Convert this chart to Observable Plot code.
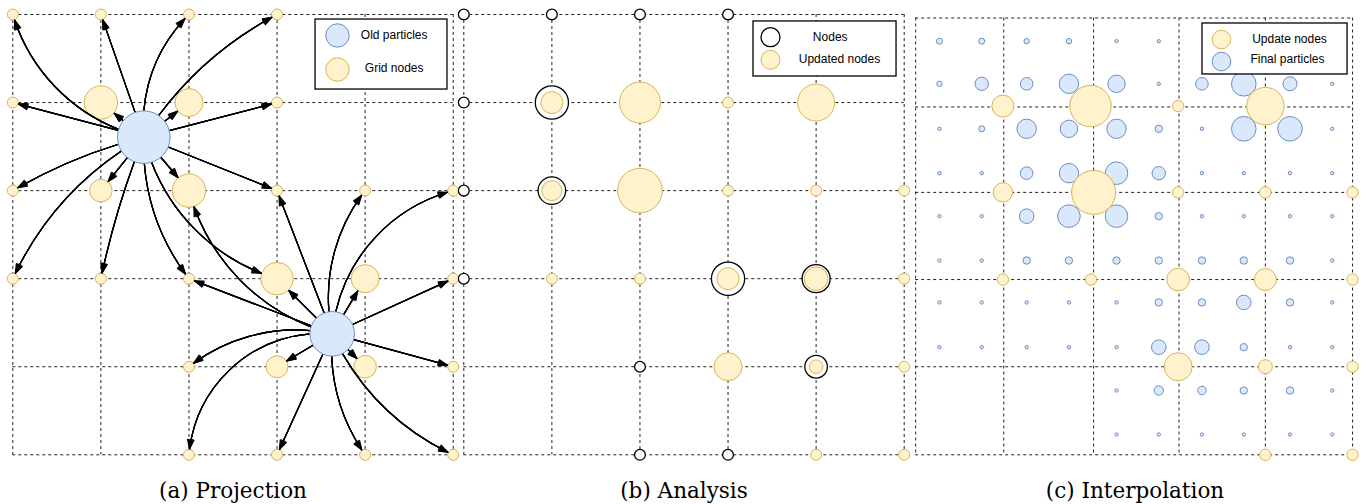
<!DOCTYPE html>
<html>
<head>
<meta charset="utf-8">
<script src="https://cdn.jsdelivr.net/npm/d3@7"></script>
<script src="https://cdn.jsdelivr.net/npm/@observablehq/plot@0.6"></script>
<style>
  html, body { margin: 0; padding: 0; background: #fff; }
</style>
</head>
<body>
<div id="chart"></div>
<script>
// ---------------- DATA ----------------
const panels = ["a", "b", "c"];
const captions = ["(a) Projection", "(b) Analysis", "(c) Interpolation"];

// grid line positions (grid units) for each panel
const gridA = [0, 1, 2, 3, 4, 5];
const gridB = [0, 1, 2, 3, 4, 5];
const gridCx = [0.01, 1.01, 2.03, 3.0, 3.98, 4.97];
const gridCy = [0.04, 1.05, 2.02, 3.01, 4.0, 5.0];

// (a) Projection: grid nodes [gx, gy, size]
const projNodes = [
  [0,0,5.5],[1,0,5.5],[2,0,5.5],[3,0,5.5],
  [0,1,5.5],[1,1,16.7],[2,1,14],[3,1,5.5],
  [0,2,5.5],[1,2,11.3],[2,2,16.7],[3,2,5.5],[4,2,5.5],[5,2,5.5],
  [0,3,5.5],[1,3,5.5],[2,3,5.5],[3,3,16.3],[4,3,14],[5,3,5.5],
  [2,4,5.5],[3,4,11],[4,4,11.3],[5,4,5.5],
  [2,5,5.5],[3,5,5.5],[4,5,5.5],[5,5,5.5]
];
// old particles [gx, gy, size]
const oldParticles = [[1.487, 1.393, 26.3], [3.626, 3.626, 22.3]];
// transfer arrows [particle index, target gx, target gy, bend (deg)]
const projArrows = [
  [0,0,0,30],[0,1,0,0],[0,2,0,25],[0,3,0,15],
  [0,0,1,0],[0,1,1,0],[0,2,1,0],[0,3,1,0],
  [0,0,2,-8],[0,1,2,0],[0,2,2,0],[0,3,2,0],
  [0,0,3,-18],[0,1,3,-5],[0,2,3,-20],[0,3,3,-30],
  [1,2,2,30],[1,3,2,0],[1,4,2,25],[1,5,2,35],
  [1,2,3,0],[1,3,3,0],[1,4,3,0],[1,5,3,0],
  [1,2,4,-25],[1,3,4,0],[1,4,4,0],[1,5,4,0],
  [1,2,5,-45],[1,3,5,0],[1,4,5,-20],[1,5,5,-20]
];

// (b) Analysis: nodes (hollow) and updated nodes (yellow) [gx, gy, size]
const analysisNodes = [
  [0,0,5.4],[1,0,5.4],[2,0,5.4],[3,0,5.4],[0,1,5.4],[0,2,5.4],[0,3,5.4],
  [2,4,5.4],[2,5,5.4],[3,5,5.4],
  [1,1,16.6],[1,2,13.8],[3,3,16.6],[4,3,14],[4,4,11.3]
];
const analysisUpdated = [
  [1,1,11],[1,2,10],[3,3,11],[4,3,11.8],[4,4,6.8],
  [2,1,20.5],[3,1,5.5],[4,1,18.5],
  [2,2,22.3],[3,2,5.5],[4,2,5.5],[5,2,5.5],
  [1,3,5.5],[2,3,5.5],[5,3,5.5],
  [3,4,14],[5,4,5.5],
  [4,5,5.5],[5,5,5.5]
];

// (c) Interpolation: update nodes [gx, gy, size]
const interpNodes = [
  [1.0,1.04,11],[1.995,1.04,20.7],[2.99,1.04,5.7],[3.98,1.04,18.7],
  [1.0,2.02,9.7],[2.03,2.02,22],[2.99,2.02,5.7],[3.98,2.02,5.7],[4.97,2.02,5.7],
  [1.0,3.01,5.7],[2.0,3.01,5.7],[2.99,3.01,11.3],[3.98,3.01,11],[4.97,3.01,5.7],
  [2.99,4.0,14],[3.98,4.0,7],[4.97,4.0,5.7],
  [3.98,5.0,5.7],[4.97,5.0,5.7]
];
// final particles: column / row positions (grid units) and sizes per row
const particleCols = [0.28, 0.76, 1.27, 1.75, 2.29, 2.77, 3.26, 3.735, 4.26, 4.74];
const particleRows = [0.303, 0.787, 1.298, 1.802, 2.29, 2.794, 3.27, 3.778, 4.27, 4.77];
const particleSizes = [
  [3, 3, 2.7, 2.7, 1.7, 1.7, null, null, null, null],
  [2.7, 6.7, 6.3, 9.7, 8.7, 1.7, 6.3, 12.3, 7, 1.7],
  [1.7, 3, 9.7, 8.7, 9.7, 3.7, 1.7, 12.3, 12.3, 1.7],
  [1.7, 1.7, 6.3, 9.7, 11.3, 6.7, 1.7, 1.7, 1.7, 1.7],
  [1.7, 1.7, 7.3, 11.3, 11.3, 3.7, 1.7, 1.7, 1.7, 1.7],
  [1.7, 1.7, 3.7, 3.7, 3.7, 3.7, 3.7, 3.7, 3.7, 1.7],
  [1.7, 1.7, 1.7, 1.7, 1.7, 3.7, 3.7, 7.3, 3.7, 1.7],
  [1.7, 1.7, 1.7, 1.7, 1.7, 7.3, 7.3, 3.7, 1.7, 1.7],
  [null, null, null, null, 1.7, 4.7, 4.3, 3.7, 3.7, 1.7],
  [null, null, null, null, 1.7, 1.7, 1.7, 1.7, 1.7, 1.7]
];

// legend labels
const legendLabelsA = ["Old particles", "Grid nodes"];
const legendLabelsB = ["Nodes", "Updated nodes"];
const legendLabelsC = ["Update nodes", "Final particles"];

// ---------------- STYLE / LAYOUT ----------------
const YELLOW = {fill: "#fff2cc", stroke: "#d6b656", strokeWidth: 1};
const BLUE = {fill: "#dae8fc", stroke: "#6c8ebf", strokeWidth: 1};
const HOLLOW = {fill: "white", stroke: "black", strokeWidth: 1.3};
const GRID = {stroke: "#222", strokeWidth: 1, strokeDasharray: "3,3"};
const SANS = "Liberation Sans, Arial, Helvetica, sans-serif";
const on = (k) => () => k;

const legendLayout = {
  a: {labels: legendLabelsA, box: [3.437, 4.935, 0.057, 0.852], sym: [[3.686, 0.238], [3.686, 0.625]], symR: 11.7,
      text: [[4.33, 0.235], [4.33, 0.613]], styles: [BLUE, YELLOW]},
  b: {labels: legendLabelsB, box: [3.289, 4.913, 0.079, 0.704], sym: [[3.482, 0.258], [3.482, 0.514]], symR: 9.5,
      text: [[4.16, 0.258], [4.265, 0.508]], styles: [HOLLOW, YELLOW]},
  c: {labels: legendLabelsC, box: [3.266, 4.913, 0.102, 0.681], sym: [[3.482, 0.284], [3.482, 0.534]], symR: 9.3,
      text: [[4.254, 0.284], [4.231, 0.508]], styles: [YELLOW, BLUE]}
};

// ---------------- MARKS ----------------
function gridMarks(key, xs, ys) {
  return [
    Plot.ruleX(xs, {x: d => d, y1: ys[0], y2: ys[ys.length - 1], fx: on(key), ...GRID}),
    Plot.ruleY(ys, {y: d => d, x1: xs[0], x2: xs[xs.length - 1], fx: on(key), ...GRID})
  ];
}

function legendMarks(key) {
  const L = legendLayout[key];
  const marks = [
    Plot.rect([L.box], {x1: d => d[0], x2: d => d[1], y1: d => d[2], y2: d => d[3], fx: on(key),
      fill: "white", stroke: "black", strokeWidth: 1.3})
  ];
  L.labels.forEach((lab, i) => {
    marks.push(Plot.dot([L.sym[i]], {x: d => d[0], y: d => d[1], r: L.symR, fx: on(key), ...L.styles[i]}));
    marks.push(Plot.text([lab], {x: L.text[i][0], y: L.text[i][1], text: d => d, fx: on(key),
      fontFamily: SANS, fontSize: 12, fill: "black"}));
  });
  return marks;
}

const nodeSize = (gx, gy) => (projNodes.find(n => n[0] === gx && n[1] === gy) || [0, 0, 5.5])[2];

const arrowMarks = projArrows.flatMap(([pi, gx, gy, bend]) => {
  const p = oldParticles[pi];
  const row = [{x1: p[0], y1: p[1], x2: gx, y2: gy}];
  return [40, 30, 20, 10].map(ha => Plot.arrow(row, {
    x1: "x1", y1: "y1", x2: "x2", y2: "y2", fx: on("a"),
    bend, headAngle: ha, headLength: 12,
    insetStart: p[2], insetEnd: nodeSize(gx, gy) + 0.5,
    stroke: "black", strokeWidth: 1.2
  }));
});

const finalParticles = [];
particleSizes.forEach((row, j) => row.forEach((s, i) => {
  if (s != null) finalParticles.push([particleCols[i], particleRows[j], s]);
}));

const chart = Plot.plot({
  width: 1370,
  height: 504,
  marginLeft: 12.3,
  marginRight: 15.3,
  marginTop: 14,
  marginBottom: 49.7,
  style: {background: "white"},
  x: {domain: [0, 5], axis: null},
  y: {domain: [0, 5], reverse: true, axis: null},
  fx: {domain: panels, paddingInner: 0.0235, paddingOuter: 0, round: false, axis: null},
  r: {type: "identity"},
  marks: [
    ...gridMarks("a", gridA, gridA),
    ...gridMarks("b", gridB, gridB),
    ...gridMarks("c", gridCx, gridCy),
    // (a)
    Plot.dot(projNodes, {x: d => d[0], y: d => d[1], r: d => d[2], fx: on("a"), ...YELLOW}),
    ...arrowMarks,
    Plot.dot(oldParticles, {x: d => d[0], y: d => d[1], r: d => d[2], fx: on("a"), ...BLUE}),
    ...legendMarks("a"),
    // (b)
    Plot.dot(analysisNodes, {x: d => d[0], y: d => d[1], r: d => d[2], fx: on("b"), ...HOLLOW}),
    Plot.dot(analysisUpdated, {x: d => d[0], y: d => d[1], r: d => d[2], fx: on("b"), ...YELLOW}),
    ...legendMarks("b"),
    // (c)
    Plot.dot(finalParticles, {x: d => d[0], y: d => d[1], r: d => d[2], fx: on("c"), ...BLUE}),
    Plot.dot(interpNodes, {x: d => d[0], y: d => d[1], r: d => d[2], fx: on("c"), ...YELLOW}),
    ...legendMarks("c"),
    // captions
    Plot.text(captions, {x: 2.5, y: 5.41, text: d => d, fx: (d, i) => panels[i],
      fontFamily: "DejaVu Serif, Liberation Serif, serif", fontSize: 21.5, fill: "black"})
  ]
});
document.getElementById("chart").appendChild(chart);
</script>
</body>
</html>
